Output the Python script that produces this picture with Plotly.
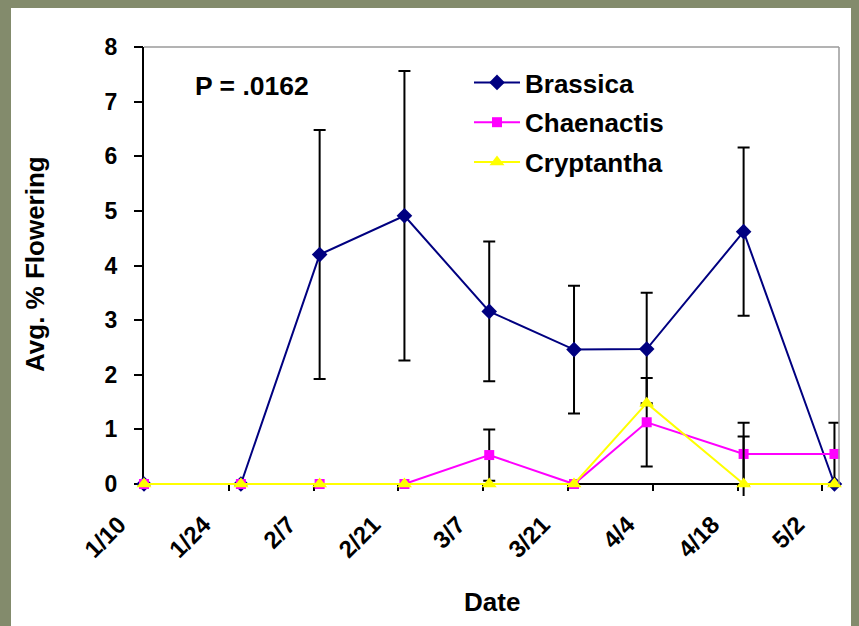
import plotly.graph_objects as go

dates = ["2009-01-10", "2009-01-26", "2009-02-08", "2009-02-22", "2009-03-08",
         "2009-03-22", "2009-04-03", "2009-04-19", "2009-05-04"]
brassica = [0, 0, 4.20, 4.91, 3.16, 2.46, 2.47, 4.62, 0]
brassica_err = [None, None, 2.28, 2.65, 1.28, 1.17, 1.03, 1.54, None]
chaenactis = [0, 0, 0, 0, 0.53, 0, 1.13, 0.55, 0.55]
chaenactis_err = [None, None, None, None, 0.47, None, 0.81, 0.57, 0.57]
cryptantha = [0, 0, 0, 0, 0, 0, 1.48, 0, 0]
cryptantha_err = [None, None, None, None, None, None, None, 0.87, None]
y_ticks = [0, 1, 2, 3, 4, 5, 6, 7, 8]

# page body has an 8px default margin: figure is drawn offset by (8, 8)
OFF = 8
W, H = 859 - OFF, 626 - OFF
L, R, T, Y0 = 144, 839, 47, 484     # screen px: plot left/right/top, y=0 line
EXTRA = 12                           # plot area extends below y=0 so zero markers are not clipped
Bp = Y0 + EXTRA
unit = (Y0 - T) / 8.0
y_min = -EXTRA / unit
pw, ph = R - L, Bp - T
BG = "#838b6c"


def px(x):
    return (x - L) / pw


def py(y):
    return (Bp - y) / ph


FONT = "Arial, Liberation Sans, sans-serif"
err_style = dict(type="data", symmetric=True, color="black", thickness=2, width=6)

fig = go.Figure()
fig.add_trace(go.Scatter(
    x=dates, y=brassica, name="Brassica", mode="lines+markers", legendgroup="a",
    line=dict(color="#000080", width=2),
    marker=dict(symbol="diamond", size=12, color="#000080"),
    error_y=dict(array=brassica_err, **err_style), cliponaxis=False))
fig.add_trace(go.Scatter(
    x=dates, y=chaenactis, name="Chaenactis", mode="lines+markers", legendgroup="b",
    line=dict(color="#FF00FF", width=2),
    marker=dict(symbol="square", size=10, color="#FF00FF"),
    error_y=dict(array=chaenactis_err, **err_style), cliponaxis=False))
fig.add_trace(go.Scatter(
    x=dates, y=cryptantha, name="Cryptantha", mode="lines+markers", legendgroup="c",
    line=dict(color="#FFFF00", width=2),
    marker=dict(symbol="triangle-up", size=13, color="#FFFF00"),
    error_y=dict(array=cryptantha_err, **err_style), cliponaxis=False))

fig.update_layout(
    width=W, height=H,
    margin=dict(l=L - OFF, r=W - (R - OFF), t=T - OFF, b=H - (Bp - OFF), autoexpand=False),
    paper_bgcolor=BG, plot_bgcolor="white",
    font=dict(family=FONT, color="black", size=22),
    showlegend=True,
    legend=dict(x=px(469), y=py(59), xanchor="left", yanchor="top",
                bgcolor="rgba(0,0,0,0)", itemwidth=46,
                font=dict(size=26, family=FONT, weight="bold"),
                tracegroupgap=3),
    xaxis=dict(type="date", range=["2009-01-10", "2009-05-04 18:00"],
               anchor="free", position=py(Y0),
               tick0="2009-01-10", dtick=14 * 86400000, tickformat="%-m/%-d",
               tickangle=-45, showgrid=False, zeroline=False,
               showline=True, linecolor="black", linewidth=2, layer="below traces",
               ticks="outside", ticklen=6, tickwidth=2, tickcolor="black",
               ticklabelstandoff=10, ticklabelshift=-25,
               tickfont=dict(size=24, family=FONT, weight="bold")),
    yaxis=dict(range=[y_min, 8], tickvals=y_ticks, showgrid=False, zeroline=False,
               showline=False, layer="below traces",
               ticks="outside", ticklen=9, tickwidth=2, tickcolor="black",
               ticklabelstandoff=12,
               tickfont=dict(size=23, family=FONT, weight="bold")),
    shapes=[
        dict(type="rect", xref="paper", yref="paper",
             x0=px(11), x1=px(900), y0=py(700), y1=py(6),
             fillcolor="white", line=dict(width=0), layer="below"),
        dict(type="line", xref="paper", yref="paper",
             x0=0, x1=1, y0=1, y1=1, line=dict(color="#9a9a9a", width=1.5)),
        dict(type="line", xref="paper", yref="paper",
             x0=1, x1=1, y0=py(Y0), y1=1, line=dict(color="#9a9a9a", width=1.5)),
        dict(type="line", xref="paper", yref="paper",
             x0=px(L - 1), x1=px(L - 1), y0=py(Y0 + 1), y1=1,
             line=dict(color="black", width=2), layer="below"),
    ],
    annotations=[
        dict(text="P = .0162", xref="paper", yref="paper", x=px(193), y=py(86),
             xanchor="left", yanchor="middle", showarrow=False,
             font=dict(size=26.5, family=FONT, weight="bold")),
        dict(text="Avg. % Flowering", xref="paper", yref="paper", x=px(35), y=py(264),
             xanchor="center", yanchor="middle", showarrow=False, textangle=-90,
             font=dict(size=26, family=FONT, weight="bold")),
        dict(text="Date", xref="paper", yref="paper", x=px(492), y=py(602),
             xanchor="center", yanchor="middle", showarrow=False,
             font=dict(size=26, family=FONT, weight="bold")),
    ],
)

fig.write_html("out.html",
               post_script="document.body.style.backgroundColor='%s';" % BG)
